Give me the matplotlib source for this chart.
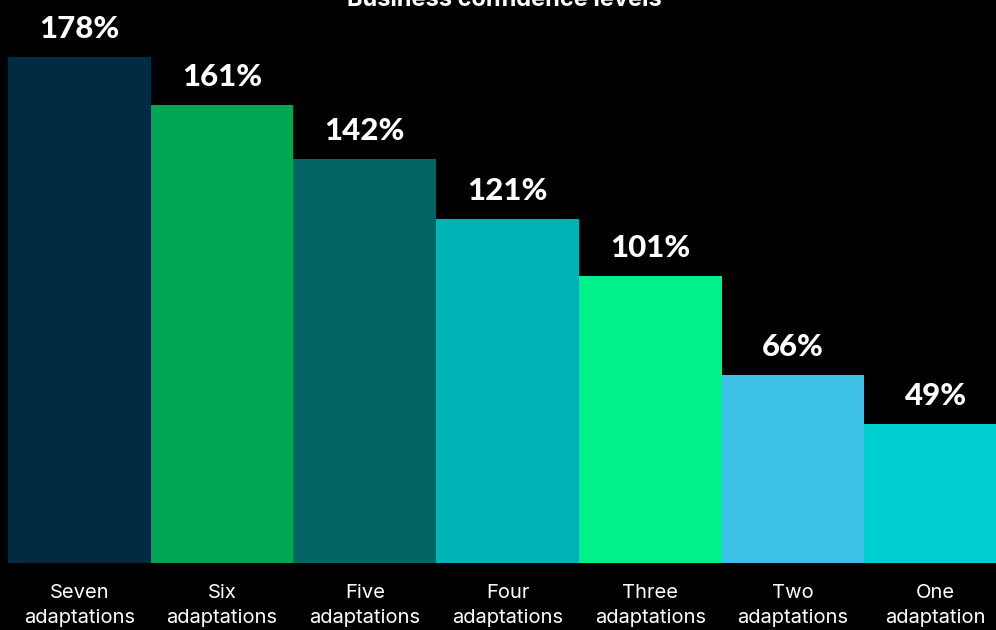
import matplotlib.pyplot as plt

categories = ["Seven\nadaptations", "Six\nadaptations", "Five\nadaptations",
              "Four\nadaptations", "Three\nadaptations", "Two\nadaptations",
              "One\nadaptation"]
values = [178, 161, 142, 121, 101, 66, 49]
colors = ["#022a42", "#00a651", "#006563", "#00b3b5", "#00f08a", "#3cc0e6", "#00d0d0"]

fig = plt.figure(figsize=(9.96, 6.3), dpi=100, facecolor="black")
# axes runs a bit past the right edge so the last bar is clipped
ax = fig.add_axes([8 / 996, 67 / 630, 999 / 996, 506 / 630])
ax.set_facecolor("black")

x = range(len(values))
ax.bar(x, values, width=1.0, color=colors)
ax.set_xlim(-0.5, len(values) - 0.5)
ax.set_ylim(0, 178)

for xi, v in zip(x, values):
    ax.annotate(f"{v}%", (xi, v), xytext=(0, 10), textcoords="offset points",
                ha="center", va="bottom", color="white", fontsize=22.5,
                fontweight="black", family="Lato")

ax.set_xticks(list(x))
ax.set_xticklabels(categories, color="white", fontsize=14.5, family="Inter",
                   linespacing=1.5)
ax.tick_params(axis="x", length=0, pad=15)
ax.set_yticks([])
for s in ax.spines.values():
    s.set_visible(False)

fig.text(504 / 996, 1.0, "Business confidence levels", ha="center", va="center",
         color="white", fontsize=17, fontweight="bold", family="Inter")

fig.savefig("out.png", dpi=100, facecolor="black")
